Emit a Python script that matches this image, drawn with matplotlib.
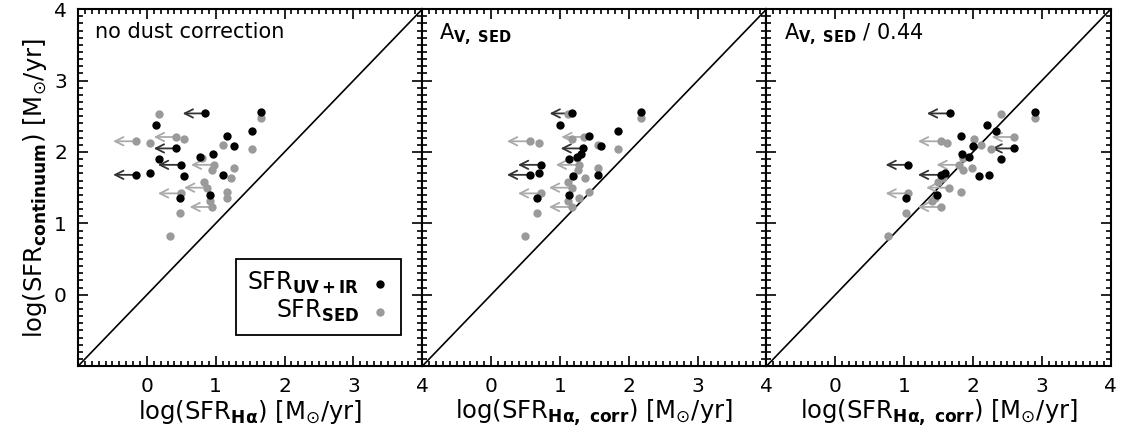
import numpy as np
import matplotlib
matplotlib.use("Agg")
import matplotlib.pyplot as plt
from matplotlib.ticker import MultipleLocator

plt.rcParams['mathtext.fontset'] = 'dejavusans'

# SFR_UV+IR galaxies (black): y value, x in the three panels, upper-limit flag
uvir_y = [2.54, 2.56, 2.38, 2.30, 2.23, 2.09, 2.05, 1.97, 1.93, 1.90, 1.82, 1.68, 1.71, 1.66, 1.68, 1.40, 1.35]
uvir_x_nodust = [0.85, 1.66, 0.13, 1.53, 1.17, 1.26, 0.43, 0.96, 0.77, 0.18, 0.49, -0.16, 0.05, 0.54, 1.11, 0.91, 0.48]
uvir_x_sed = [1.18, 2.18, 1.00, 1.85, 1.42, 1.59, 1.34, 1.31, 1.25, 1.13, 0.72, 0.56, 0.70, 1.19, 1.56, 1.13, 0.67]
uvir_x_044 = [1.66, 2.90, 2.21, 2.33, 1.82, 2.00, 2.60, 1.84, 1.94, 2.40, 1.06, 1.53, 1.60, 2.09, 2.24, 1.48, 1.02]
uvir_lim = [1, 0, 0, 0, 0, 0, 1, 0, 0, 0, 1, 1, 0, 0, 0, 0, 0]

# SFR_SED galaxies (grey)
sed_y = [2.53, 2.47, 2.21, 2.18, 2.15, 2.13, 2.10, 2.04, 1.91, 1.82, 1.75, 1.78, 1.64, 1.42, 1.58, 1.50, 1.44, 1.35, 1.31, 1.23, 1.15, 0.83]
sed_x_nodust = [0.18, 1.66, 0.43, 0.54, -0.16, 0.05, 1.11, 1.53, 0.80, 0.97, 0.95, 1.26, 1.22, 0.49, 0.83, 0.87, 1.17, 1.17, 0.91, 0.95, 0.48, 0.33]
sed_x_sed = [1.12, 2.18, 1.35, 1.18, 0.56, 0.70, 1.55, 1.85, 1.25, 1.27, 1.26, 1.55, 1.36, 0.72, 1.12, 1.17, 1.42, 1.28, 1.12, 1.17, 0.67, 0.49]
sed_x_044 = [2.40, 2.90, 2.60, 2.02, 1.53, 1.63, 2.12, 2.26, 1.85, 1.80, 1.85, 1.99, 1.56, 1.06, 1.49, 1.65, 1.83, 1.45, 1.40, 1.53, 1.02, 0.77]
sed_lim = [0, 0, 1, 0, 1, 0, 0, 0, 0, 1, 0, 0, 0, 1, 0, 1, 0, 0, 0, 1, 0, 0]

panel_titles = ['no dust correction', r'A$_{\mathbf{V,\ SED}}$', r'A$_{\mathbf{V,\ SED}}$ / 0.44']
x_labels = [r'log(SFR$_{\mathbf{H\alpha}}$) [M$_{\odot}$/yr]',
            r'log(SFR$_{\mathbf{H\alpha,\ corr}}$) [M$_{\odot}$/yr]',
            r'log(SFR$_{\mathbf{H\alpha,\ corr}}$) [M$_{\odot}$/yr]']
arrow_len = 0.33


def draw_points(ax, x, y, lim, color, arrow_color):
    ax.scatter(x, y, s=36, color=color, zorder=3, linewidths=0)
    for xi, yi, li in zip(x, y, lim):
        if li:
            ax.annotate('', xy=(xi - arrow_len, yi), xytext=(xi, yi),
                        arrowprops=dict(arrowstyle='->', color=arrow_color, lw=1.3,
                                        shrinkA=0, shrinkB=0, mutation_scale=15),
                        zorder=2)


fig, axes = plt.subplots(1, 3, figsize=(11.23, 4.38), dpi=100, sharey=True)
fig.subplots_adjust(left=0.0695, right=0.989, bottom=0.164, top=0.979, wspace=0)

uvir_sets = [uvir_x_nodust, uvir_x_sed, uvir_x_044]
sed_sets = [sed_x_nodust, sed_x_sed, sed_x_044]

for i, ax in enumerate(axes):
    ax.plot([-1, 4], [-1, 4], color='black', lw=1.2, zorder=1)
    draw_points(ax, sed_sets[i], sed_y, sed_lim, '#9a9a9a', '#aaaaaa')
    draw_points(ax, uvir_sets[i], uvir_y, uvir_lim, 'black', '#333333')
    ax.set_xlim(-1, 4)
    ax.set_ylim(-1, 4)
    ax.set_xticks([0, 1, 2, 3, 4])
    ax.set_yticks([0, 1, 2, 3, 4])
    ax.xaxis.set_minor_locator(MultipleLocator(0.1))
    ax.yaxis.set_minor_locator(MultipleLocator(0.1))
    ax.tick_params(which='both', direction='in', top=True, right=True, width=1.2)
    ax.tick_params(which='major', length=7, labelsize=14.5, pad=8)
    ax.tick_params(which='minor', length=3.5)
    for s in ax.spines.values():
        s.set_linewidth(1.5)
    ax.set_xlabel(x_labels[i], fontsize=17.5, labelpad=1)
    ax.text(0.05, 0.965, panel_titles[i], transform=ax.transAxes,
            fontsize=15, va='top', ha='left')

axes[0].set_ylabel(r'log(SFR$_{\mathbf{continuum}}$) [M$_{\odot}$/yr]', fontsize=17.5)

# legend
h1 = axes[0].scatter([], [], s=36, color='black', linewidths=0)
h2 = axes[0].scatter([], [], s=36, color='#9a9a9a', linewidths=0)
leg = axes[0].legend([h1, h2], [r'SFR$_{\mathbf{UV+IR}}$', r'SFR$_{\mathbf{SED}}$'],
                     loc='lower right', markerfirst=False, fontsize=17,
                     fancybox=False, edgecolor='black', framealpha=1,
                     handlelength=0.8, handletextpad=0.5, borderpad=0.45,
                     labelspacing=0.1, borderaxespad=0,
                     bbox_to_anchor=(0.937, 0.087))
leg.get_frame().set_linewidth(1.3)
for t in leg.get_texts():
    t.set_ha('right')

fig.savefig('out.png', dpi=100)
